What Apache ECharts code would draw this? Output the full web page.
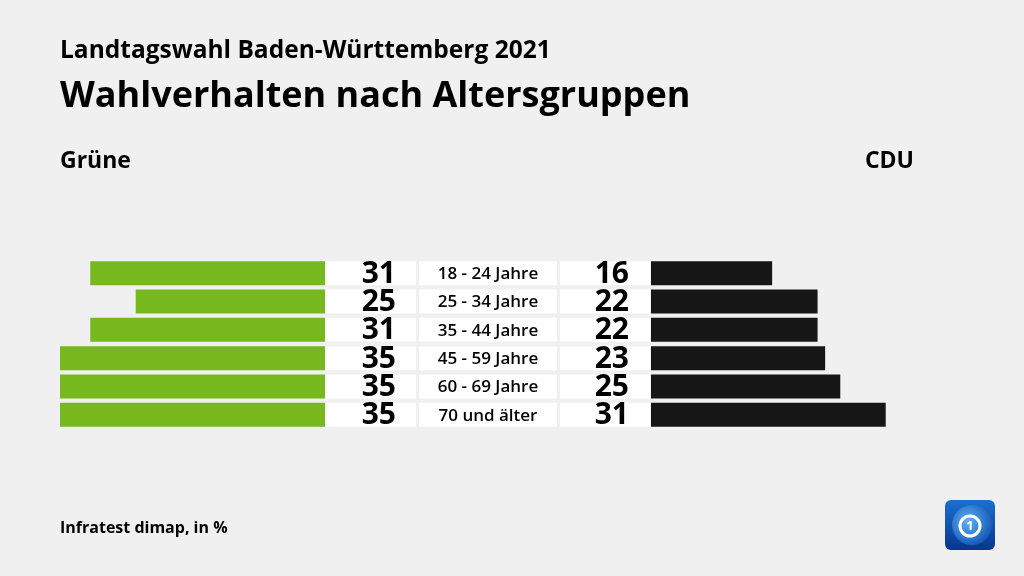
<!DOCTYPE html>
<html><head><meta charset="utf-8">
<script src="https://cdn.jsdelivr.net/npm/echarts@6/dist/echarts.min.js"></script>
<style>html,body{margin:0;padding:0;background:#f0f0f0}#c{width:1024px;height:576px}</style>
</head><body><div id="c"></div>
<script>
const categories = ["18 - 24 Jahre","25 - 34 Jahre","35 - 44 Jahre","45 - 59 Jahre","60 - 69 Jahre","70 und älter"];
const grueneValues = [31,25,31,35,35,35];
const cduValues = [16,22,22,23,25,31];
const leftParty = "Grüne";
const rightParty = "CDU";
const titleText = "Wahlverhalten nach Altersgruppen";
const subtitleText = "Landtagswahl Baden-Württemberg 2021";
const sourceText = "Infratest dimap, in %";

const FONT = "'Open Sans', sans-serif";
const GREEN = "#76b81e";
const BLACK = "#161616";
const gridTop = 259, gridH = 170;

const chart = echarts.init(document.getElementById('c'), null, {renderer:'canvas'});
const catAxis = (gi) => ({type:'category', gridIndex:gi, data:categories, inverse:true, show:false});
chart.setOption({
  backgroundColor:'#f0f0f0',
  animation:false,
  grid:[
    {left:60, top:gridTop, width:265, height:gridH},
    {left:325, top:gridTop, width:326, height:gridH},
    {left:651, top:gridTop, width:265, height:gridH}
  ],
  xAxis:[
    {type:'value', gridIndex:0, min:0, max:35, inverse:true, show:false},
    {type:'value', gridIndex:1, min:0, max:326, show:false},
    {type:'value', gridIndex:2, min:0, max:35, show:false}
  ],
  yAxis:[catAxis(0), catAxis(1), catAxis(2)],
  series:[
    {type:'bar', xAxisIndex:0, yAxisIndex:0, data:grueneValues, barWidth:24, itemStyle:{color:GREEN}, silent:true},
    {type:'bar', xAxisIndex:2, yAxisIndex:2, data:cduValues, barWidth:24, itemStyle:{color:BLACK}, silent:true},
    {type:'custom', xAxisIndex:1, yAxisIndex:1, silent:true,
     data: categories.map((c,i)=>[i, grueneValues[i], cduValues[i]]),
     renderItem:function(params, api){
       const cs = params.coordSys;
       const idx = api.value(0);
       const yc = api.coord([0, idx])[1];
       const h = 24, y0 = yc - h/2, x0 = cs.x;
       const rect = (x, w) => ({type:'rect', shape:{x:x0+x, y:y0, width:w, height:h}, style:{fill:'#ffffff'}});
       const txt = (x, s, size, align, weight) => ({type:'text', x:x0+x, y:yc+1,
         style:{text:String(s), fill:'#000', font: weight+' '+size+'px '+FONT, textAlign:align, textVerticalAlign:'middle'}});
       return {type:'group', children:[
         rect(0, 91), rect(94, 138), rect(235, 90),
         txt(71, api.value(1), 30, 'right', 700),
         txt(163, categories[idx], 17, 'center', 600),
         txt(304, api.value(2), 30, 'right', 700)
       ]};
     }}
  ],
  graphic:[
    {type:'text', left:60, top:39, style:{text:subtitleText, font:'700 24.5px '+FONT, fill:'#000'}},
    {type:'text', left:60, top:79, style:{text:titleText, font:'700 36px '+FONT, fill:'#000'}},
    {type:'text', left:60, top:150, style:{text:leftParty, font:'700 23px '+FONT, fill:'#000'}},
    {type:'text', right:110, top:150, style:{text:rightParty, font:'700 23px '+FONT, fill:'#000', textAlign:'right'}},
    {type:'text', left:60, top:520, style:{text:sourceText, font:'700 16px '+FONT, fill:'#000'}},
    {type:'group', left:945, top:500, children:[
      {type:'rect', shape:{x:0,y:0,width:50,height:50,r:6}, style:{fill:new echarts.graphic.LinearGradient(0,0,0,1,[{offset:0,color:'#1c6fd1'},{offset:1,color:'#06358f'}])}},
      {type:'circle', shape:{cx:27,cy:25,r:20}, style:{fill:new echarts.graphic.RadialGradient(0.4,0.4,0.7,[{offset:0,color:'#5fb3f5'},{offset:1,color:'#0b4fb0'}])}},
      {type:'circle', shape:{cx:25,cy:26,r:10}, style:{fill:'none', stroke:'#ffffff', lineWidth:3}},
      {type:'text', x:25, y:26, style:{text:'1', font:'700 13px '+FONT, fill:'#ffffff', textAlign:'center', textVerticalAlign:'middle'}}
    ]}
  ]
});
</script></body></html>
